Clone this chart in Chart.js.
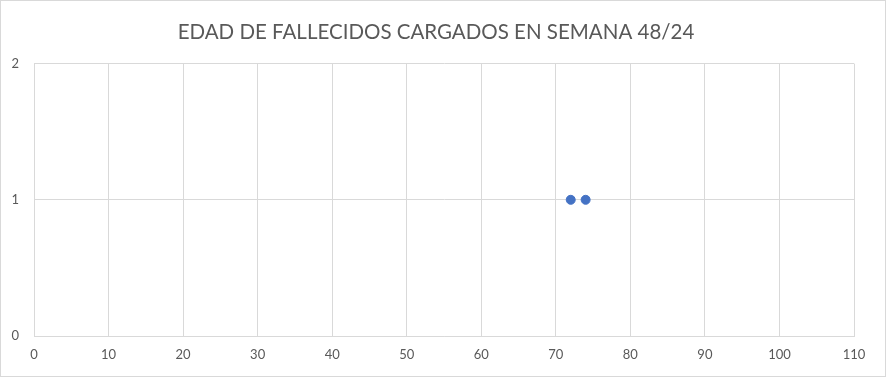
<!DOCTYPE html>
<html>
<head>
<meta charset="utf-8">
<script src="https://cdn.jsdelivr.net/npm/chart.js@4/dist/chart.umd.min.js"></script>
<style>
html,body{margin:0;padding:0;background:#fff;}
#wrap{width:886px;height:377px;box-sizing:border-box;border:1px solid #d9d9d9;position:relative;}
canvas{display:block;}
</style>
</head>
<body>
<div id="wrap"><canvas id="c" width="884" height="375"></canvas></div>
<script>
const chartTitle = "EDAD DE FALLECIDOS CARGADOS EN SEMANA 48/24";
const ages = [72, 74];
const counts = [1, 1];
const xTicks = [0,10,20,30,40,50,60,70,80,90,100,110];
const yTicks = [0,1,2];

const points = ages.map((a,i)=>({x:a,y:counts[i]}));
const FONT = "'Lato', 'DejaVu Sans Condensed', sans-serif";
const gridColor = '#d9d9d9';
const textColor = '#595959';

new Chart(document.getElementById('c'), {
  type: 'scatter',
  data: { datasets: [{ data: points, backgroundColor: '#4472C4', borderColor: '#4472C4', pointRadius: 4.5, pointHoverRadius: 4.5 }] },
  options: {
    responsive: false,
    animation: false,
    layout: { padding: { left: 0, right: 14, top: 0, bottom: 0 } },
    plugins: {
      legend: { display: false },
      tooltip: { enabled: false },
      title: { display: true, text: chartTitle, color: textColor,
        font: { family: FONT, size: 20.5, weight: 'normal' }, padding: { top: 19, bottom: 19 } }
    },
    scales: {
      x: {
        type: 'linear', min: xTicks[0], max: xTicks[xTicks.length-1],
        afterBuildTicks: s => { s.ticks = xTicks.map(v=>({value:v})); },
        afterFit: s => { s.height = 40; },
        grid: { color: gridColor, drawTicks: false },
        border: { color: gridColor },
        ticks: { color: textColor, padding: 11, font: { family: FONT, size: 13 }, maxRotation: 0 }
      },
      y: {
        type: 'linear', min: yTicks[0], max: yTicks[yTicks.length-1],
        afterBuildTicks: s => { s.ticks = yTicks.map(v=>({value:v})); },
        afterFit: s => { s.width = 33; },
        grid: { color: gridColor, drawTicks: false },
        border: { color: gridColor },
        ticks: { color: textColor, padding: 15, font: { family: FONT, size: 13 } }
      },
      yRightSpace: {
        type: 'linear', position: 'right', min: 0, max: 2,
        afterFit: s => { s.width = 17; },
        grid: { display: false, drawTicks: false },
        border: { display: false },
        ticks: { display: false }
      }
    }
  }
});
</script>
</body>
</html>
